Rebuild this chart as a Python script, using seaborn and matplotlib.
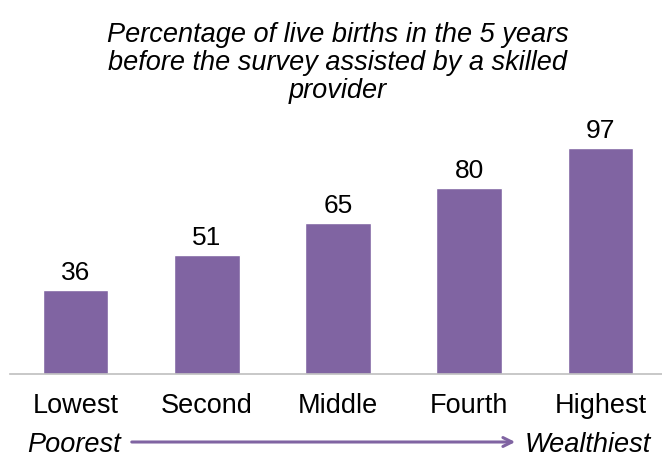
import matplotlib
matplotlib.use("Agg")
import matplotlib.pyplot as plt
import seaborn as sns
import pandas as pd

categories = ["Lowest", "Second", "Middle", "Fourth", "Highest"]
values = [36, 51, 65, 80, 97]
title = "Percentage of live births in the 5 years\nbefore the survey assisted by a skilled\nprovider"

sns.set_theme(style="white")
plt.rcParams['font.family'] = ['Liberation Sans', 'DejaVu Sans']
plt.rcParams['text.color'] = 'black'

df = pd.DataFrame({"cat": categories, "val": values})
fig = plt.figure(figsize=(6.62, 4.57), dpi=100)
ax = fig.add_axes([10/662, 83/457, 656/662, 254/457])
sns.barplot(data=df, x="cat", y="val", color="#8064A2", width=0.5, saturation=1, ax=ax)
ax.set_xlim(-0.5, 4.5)
ax.set_ylim(0, 109)
for i, v in enumerate(values):
    ax.text(i, v + 2, str(v), ha="center", va="bottom", fontsize=19, color="black")
for s in ["top", "right", "left"]:
    ax.spines[s].set_visible(False)
ax.spines["bottom"].set_color("#BFBFBF")
ax.spines["bottom"].set_linewidth(1.2)
ax.set_yticks([])
ax.set_xlabel("")
ax.set_ylabel("")
ax.tick_params(axis="x", labelsize=19.5, pad=14, length=0, colors="black")

fig.text(338/662, 1 - 22/457, title, ha="center", va="top", fontsize=19.5, style="italic",
         linespacing=1.1, color="black")
fig.text(27/662, 1 - 445/457, "Poorest", ha="left", va="center", fontsize=19.5, style="italic")
fig.text(651/662, 1 - 445/457, "Wealthiest", ha="right", va="center", fontsize=19.5, style="italic")
ax.annotate("", xy=(518/662, 1 - 442/457), xytext=(129/662, 1 - 442/457),
            xycoords="figure fraction", textcoords="figure fraction",
            arrowprops=dict(arrowstyle="->", color="#8064A2", lw=2.2, mutation_scale=16))
fig.savefig("out.png", dpi=100)
